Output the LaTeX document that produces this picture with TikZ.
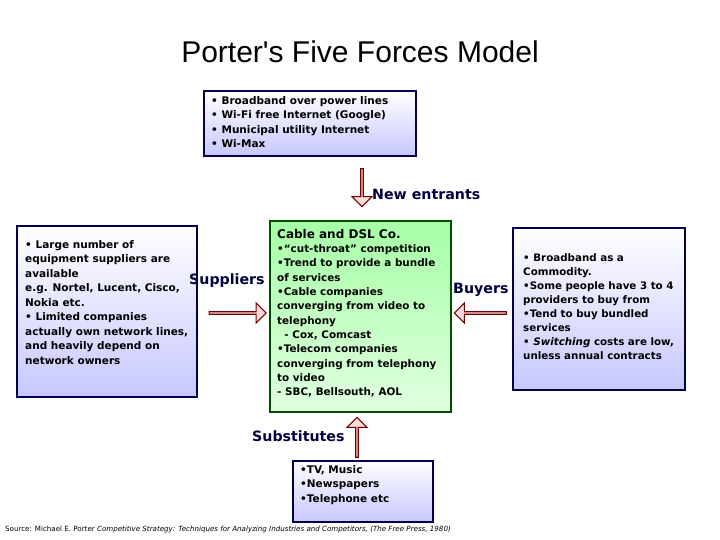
\documentclass[tikz,border=0pt]{standalone}
\usepackage{fontspec}
\setmainfont{DejaVu Sans}
\newfontfamily\titlefont{Liberation Sans}
\usetikzlibrary{shapes.arrows}
\begin{document}
\begin{tikzpicture}[x=1pt,y=-1pt,
  bluebox/.style={draw=blue!30!black,line width=1.6pt,top color=white,bottom color=blue!22},
  greenbox/.style={draw=green!30!black,line width=1.2pt,top color=green!35!white,bottom color=green!12!white},
  txt/.style={font=\fontsize{10.5}{14.5}\selectfont\bfseries,align=left,inner sep=0pt,anchor=north west},
  lbl/.style={font=\fontsize{14.2}{16}\selectfont\bfseries,text=blue!25!black,inner sep=0pt},
  barrow/.style={single arrow,draw=red!45!black,fill=red!15,line width=1.1pt,inner sep=0pt,minimum height=#1,minimum width=20pt,single arrow head extend=4pt,single arrow tip angle=90}]
\useasboundingbox (0,0) rectangle (720,540);
\node[font=\titlefont\fontsize{30}{34}\selectfont] (title) at (360,52) {Porter's Five Forces Model};
\draw[bluebox] (204,91) rectangle (416,156);
\node[txt] (top) at (211,96) {• Broadband over power lines\\• Wi-Fi free Internet (Google)\\• Municipal utility Internet\\• Wi-Max};
\node[barrow=38pt,rotate=-90] (ad) at (362,187) {};
\node[lbl,anchor=west] (ne) at (372,194) {New entrants};
\draw[greenbox] (270,221) rectangle (451,412);
\node[txt,font=\fontsize{10.4}{14.3}\selectfont\bfseries] (mid) at (277,229) {{\fontsize{12}{14}\selectfont Cable and DSL Co.}\\•“cut-throat” competition\\•Trend to provide a bundle\\of services\\•Cable companies\\converging from video to\\telephony\\\ \ - Cox, Comcast\\•Telecom companies\\converging from telephony\\to video\\- SBC, Bellsouth, AOL};
\draw[bluebox] (17,226) rectangle (197,397);
\node[txt] (left) at (25,240) {• Large number of\\equipment suppliers are\\available\\e.g. Nortel, Lucent, Cisco,\\Nokia etc.\\• Limited companies\\actually own network lines,\\and heavily depend on\\network owners};
\node[lbl,anchor=west] (sup) at (189,281) {Suppliers};
\node[barrow=57pt] (ar) at (237,313) {};
\node[lbl,anchor=west] (buy) at (453,290) {Buyers};
\node[barrow=52pt,rotate=180] (al) at (481,313) {};
\draw[bluebox] (513,228) rectangle (685,390);
\node[txt,font=\fontsize{10.3}{14}\selectfont\bfseries] (right) at (523,253) {• Broadband as a\\Commodity.\\•Some people have 3 to 4\\providers to buy from\\•Tend to buy bundled\\services\\• {\itshape Switching} costs are low,\\unless annual contracts};
\node[lbl,anchor=west] (subs) at (252,436) {Substitutes};
\node[barrow=40pt,rotate=90] (au) at (357,438) {};
\draw[bluebox] (293,461) rectangle (433,522);
\node[txt] (bot) at (300,465) {•TV, Music\\•Newspapers\\•Telephone etc};
\node[font=\fontsize{7.1}{8}\selectfont,anchor=west,inner sep=0pt] (src) at (5,530) {Source: Michael E. Porter {\itshape Competitive Strategy: Techniques for Analyzing Industries and Competitors, (The Free Press, 1980)}};
\end{tikzpicture}
\end{document}
